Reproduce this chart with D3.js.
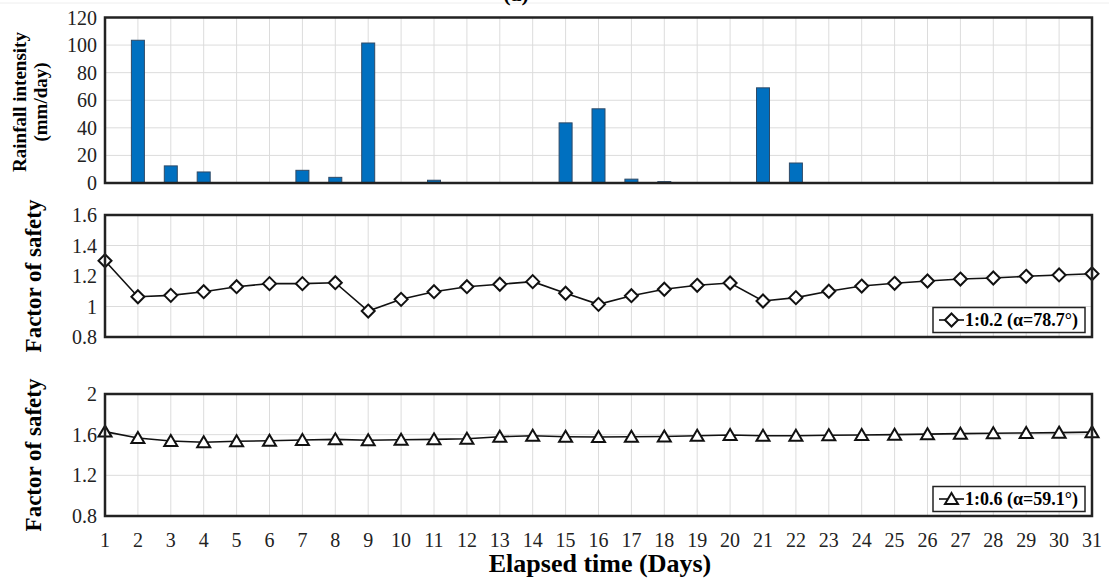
<!DOCTYPE html>
<html>
<head>
<meta charset="utf-8">
<script src="https://cdn.jsdelivr.net/npm/d3@7"></script>
<style>
  body { margin: 0; background: #fff; }
  svg { display: block; font-family: "Liberation Serif", "Times New Roman", serif; }
</style>
</head>
<body>
<svg id="chart" width="1109" height="578"></svg>
<script>
// data
const days = d3.range(1, 32);
const rainfall = [0, 103.5, 12.4, 8, 0, 0, 9.2, 4.1, 101.5, 0, 2, 0, 0, 0, 43.6, 53.8, 2.8, 1, 0, 0, 69, 14.5, 0, 0, 0, 0, 0, 0, 0, 0, 0];
const fsSteep = [1.30, 1.064, 1.073, 1.097, 1.13, 1.15, 1.15, 1.156, 0.97, 1.047, 1.097, 1.13, 1.146, 1.163,
  1.087, 1.014, 1.071, 1.113, 1.139, 1.154, 1.036, 1.058, 1.10, 1.134, 1.152, 1.167, 1.18, 1.187, 1.198, 1.207, 1.215];
const fsGentle = [1.63, 1.567, 1.538, 1.525, 1.535, 1.54, 1.548, 1.554, 1.545, 1.55, 1.554, 1.56, 1.58, 1.59,
  1.58, 1.577, 1.58, 1.582, 1.59, 1.597, 1.59, 1.59, 1.595, 1.597, 1.60, 1.605, 1.61, 1.614, 1.617, 1.62, 1.625];
const rainTicks = [0, 20, 40, 60, 80, 100, 120];
const steepTicks = [0.8, 1, 1.2, 1.4, 1.6];
const gentleTicks = [0.8, 1.2, 1.6, 2];
const steepLabel = "1:0.2 (\u03b1=78.7\u00b0)";
const gentleLabel = "1:0.6 (\u03b1=59.1\u00b0)";

const svg = d3.select("#chart");
const left = 105, right = 1092;
const x = d3.scaleLinear().domain([1, 31]).range([left, right]);

// panel title, cropped at the top edge as in the source figure
svg.append("line").attr("x1", 0).attr("x2", 1109).attr("y1", 3).attr("y2", 3)
  .attr("stroke", "#eeeeee").attr("stroke-width", 1);
svg.append("text").attr("x", 516).attr("y", 1).attr("text-anchor", "middle")
  .attr("font-size", "22px").attr("font-weight", "bold").text("(a)");

function panel(top, bottom, y, ticks, fmt) {
  const g = svg.append("g");
  // grid
  g.selectAll(".hg").data(ticks).join("line")
    .attr("x1", left).attr("x2", right)
    .attr("y1", d => y(d)).attr("y2", d => y(d))
    .attr("stroke", "#dcdcdc").attr("stroke-width", 1);
  g.selectAll(".vg").data(days).join("line")
    .attr("x1", d => x(d)).attr("x2", d => x(d))
    .attr("y1", top).attr("y2", bottom)
    .attr("stroke", "#dcdcdc").attr("stroke-width", 1);
  // tick labels
  g.selectAll(".tl").data(ticks).join("text")
    .attr("x", left - 8).attr("y", d => y(d))
    .attr("dy", "0.35em")
    .attr("text-anchor", "end")
    .attr("font-size", "20px")
    .attr("fill", "#222")
    .text(fmt);
  return g;
}

function frame(top, bottom) {
  svg.append("rect")
    .attr("x", left).attr("y", top)
    .attr("width", right - left).attr("height", bottom - top)
    .attr("fill", "none").attr("stroke", "#222").attr("stroke-width", 2.5);
}

// ---- Rainfall panel
const yRain = d3.scaleLinear().domain([0, 120]).range([183, 17.5]);
panel(17.5, 183, yRain, rainTicks, d => d);
svg.append("g").selectAll("rect").data(days).join("rect")
  .attr("x", d => x(d) - 6.5)
  .attr("width", 13)
  .attr("y", (d, i) => yRain(rainfall[i]))
  .attr("height", (d, i) => yRain(0) - yRain(rainfall[i]))
  .attr("fill", "#0070c0")
  .attr("stroke", "#2f4a66").attr("stroke-width", 1)
  .attr("display", (d, i) => rainfall[i] > 0 ? null : "none");
frame(17.5, 183);

const rainTitle = svg.append("text")
  .attr("transform", "translate(26,102) rotate(-90)")
  .attr("text-anchor", "middle")
  .attr("font-size", "19px").attr("font-weight", "bold");
rainTitle.append("tspan").attr("x", 0).attr("dy", 0).text("Rainfall intensity");
rainTitle.append("tspan").attr("x", 0).attr("dy", "1.1em").text("(mm/day)");

// line panels
function linePanel(top, bottom, domain, ticks, vals, marker, label, legendY) {
  const y = d3.scaleLinear().domain(domain).range([bottom, top]);
  panel(top, bottom, y, ticks, d => d);
  const line = d3.line().x((d, i) => x(days[i])).y(d => y(d));
  svg.append("path").datum(vals)
    .attr("d", line).attr("fill", "none")
    .attr("stroke", "#111").attr("stroke-width", 1.6);
  svg.append("g").selectAll("path").data(vals).join("path")
    .attr("d", marker)
    .attr("transform", (d, i) => `translate(${x(days[i])},${y(d)})`)
    .attr("fill", "#fff").attr("stroke", "#111").attr("stroke-width", 2);
  frame(top, bottom);

  // legend
  const lg = svg.append("g");
  lg.append("rect").attr("x", 933).attr("y", legendY)
    .attr("width", 152).attr("height", 25)
    .attr("fill", "#fff").attr("stroke", "#222").attr("stroke-width", 1.5);
  lg.append("line").attr("x1", 939).attr("x2", 964)
    .attr("y1", legendY + 12.5).attr("y2", legendY + 12.5)
    .attr("stroke", "#111").attr("stroke-width", 1.6);
  lg.append("path").attr("d", marker)
    .attr("transform", `translate(951.5,${legendY + 12.5})`)
    .attr("fill", "#fff").attr("stroke", "#111").attr("stroke-width", 2);
  lg.append("text").attr("x", 965).attr("y", legendY + 12.5).attr("dy", "0.35em")
    .attr("font-size", "18px").attr("font-weight", "bold").text(label);

  svg.append("text")
    .attr("transform", `translate(41,${(top + bottom) / 2}) rotate(-90)`)
    .attr("text-anchor", "middle")
    .attr("font-size", "23px").attr("font-weight", "bold")
    .text("Factor of safety");
}

const diamond = "M0,-6.5L6.5,0L0,6.5L-6.5,0Z";
const triangle = "M0,-6L6.5,5L-6.5,5Z";

linePanel(215, 337, [0.8, 1.6], steepTicks, fsSteep, diamond, steepLabel, 307.5);
linePanel(394, 516, [0.8, 2], gentleTicks, fsGentle, triangle, gentleLabel, 486.5);

// x tick labels
svg.append("g").selectAll("text").data(days).join("text")
  .attr("x", d => x(d)).attr("y", 540).attr("dy", "0.35em")
  .attr("text-anchor", "middle")
  .attr("font-size", "20px").attr("fill", "#222")
  .text(d => d);

svg.append("text")
  .attr("x", 600).attr("y", 563).attr("dy", "0.35em")
  .attr("text-anchor", "middle")
  .attr("font-size", "26px").attr("font-weight", "bold")
  .text("Elapsed time (Days)");
</script>
</body>
</html>
